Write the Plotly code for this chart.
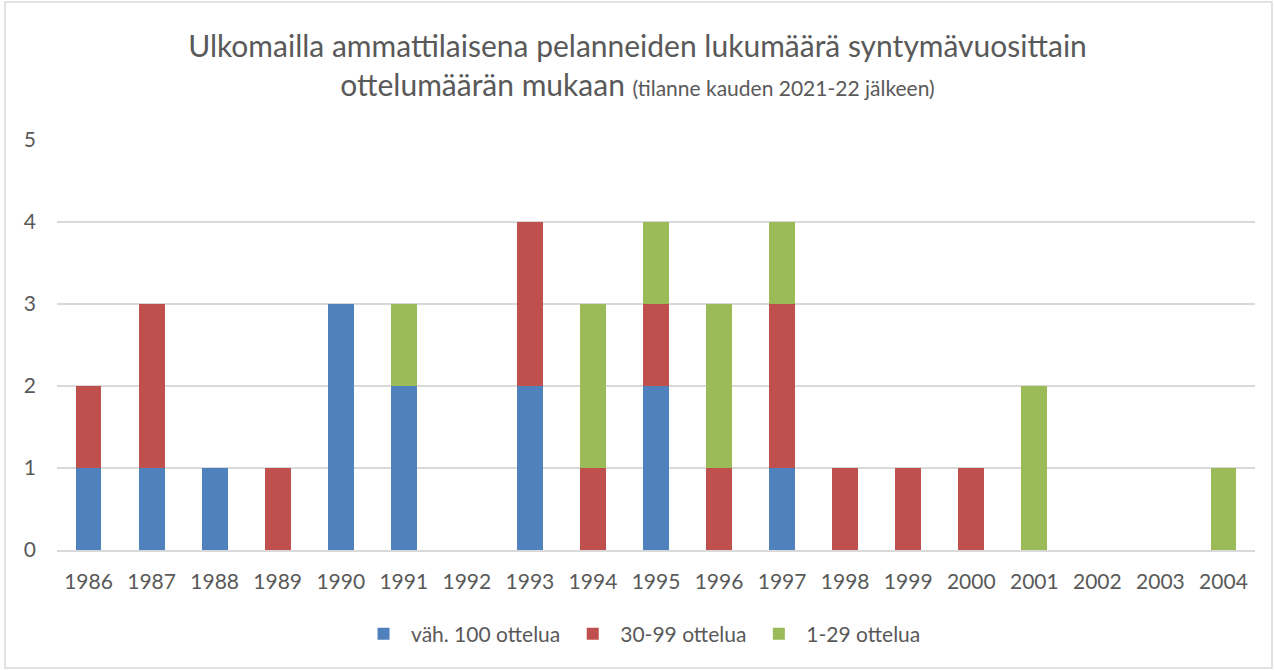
import plotly.graph_objects as go

years = [str(y) for y in range(1986, 2005)]
vah100 = [1, 1, 1, 0, 3, 2, 0, 2, 0, 2, 0, 1, 0, 0, 0, 0, 0, 0, 0]
v30_99 = [1, 2, 0, 1, 0, 0, 0, 2, 1, 1, 1, 2, 1, 1, 1, 0, 0, 0, 0]
v1_29 = [0, 0, 0, 0, 0, 1, 0, 0, 2, 1, 2, 1, 0, 0, 0, 2, 0, 0, 1]
series_names = ["väh. 100 ottelua", "30-99 ottelua", "1-29 ottelua"]
colors = ["#4F81BD", "#C0504D", "#9BBB59"]

FONT = "Lato, Carlito, Calibri, sans-serif"
fig = go.Figure()
for name, vals, c in zip(series_names, [vah100, v30_99, v1_29], colors):
    fig.add_trace(go.Bar(x=years, y=vals, name=name, marker_color=c,
                         marker_line_width=0))

fig.update_layout(
    barmode="stack",
    bargap=0.59,
    width=1275, height=670,
    margin=dict(l=57, r=20, t=140, b=120),
    paper_bgcolor="white", plot_bgcolor="white",
    font=dict(family=FONT, color="#595959", size=21),
    title=dict(
        text="Ulkomailla ammattilaisena pelanneiden lukumäärä syntymävuosittain<br>"
             "ottelumäärän mukaan <span style='font-size:21px'>(tilanne kauden 2021-22 jälkeen)</span>",
        x=0.5, xanchor="center", y=0.915, yanchor="middle",
        font=dict(family=FONT, size=30, color="#595959"),
    ),
    xaxis=dict(type="category", showgrid=False, showline=True, linecolor="#D9D9D9",
               linewidth=1.5, ticks="", ticklabelstandoff=12,
               tickfont=dict(size=21, color="#595959")),
    yaxis=dict(range=[0, 5], dtick=1, showgrid=True, gridcolor="#D9D9D9",
               gridwidth=1.5, zeroline=False, ticks="", ticklabelstandoff=20,
               tickfont=dict(size=21, color="#595959")),
    legend=dict(orientation="h", x=0.4875, xanchor="center", y=-0.205, yanchor="middle",
                font=dict(size=21, color="#595959"), itemwidth=45, traceorder="normal"),
    showlegend=True,
)
fig.add_shape(type="rect", xref="paper", yref="paper",
              x0=(5 - 57) / 1198, x1=(1272 - 57) / 1198,
              y0=(550 - 668) / 410, y1=(550 - 2) / 410,
              line=dict(color="#D9D9D9", width=1.5), fillcolor="rgba(0,0,0,0)", layer="below")

fig.write_html("out.html", config={"displayModeBar": False},
               post_script="document.body.style.margin='0';")
